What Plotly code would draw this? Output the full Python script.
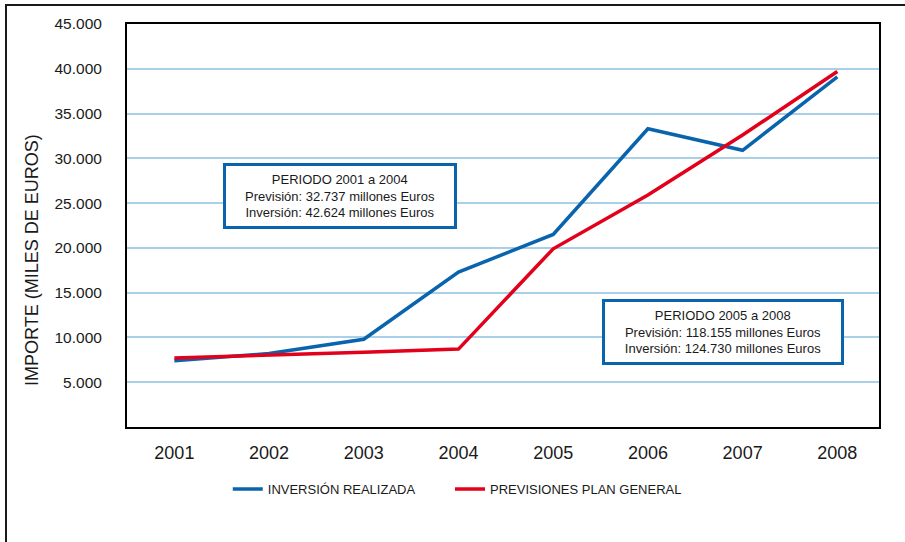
import plotly.graph_objects as go

years = ["2001", "2002", "2003", "2004", "2005", "2006", "2007", "2008"]
inversion = [7400, 8200, 9800, 17300, 21500, 33300, 30900, 39100]
previsiones = [7700, 8000, 8350, 8700, 19900, 25900, 32600, 39700]
ytick_vals = [5000, 10000, 15000, 20000, 25000, 30000, 35000, 40000, 45000]
ytick_text = ["5.000", "10.000", "15.000", "20.000", "25.000", "30.000", "35.000", "40.000", "45.000"]

BLUE = "#0a64ad"
RED = "#e3001b"
GRID = "#a9d0e6"
FONT = "Liberation Sans, Arial, sans-serif"

fig = go.Figure()
fig.add_trace(go.Scatter(x=years, y=inversion, mode="lines", name="INVERSIÓN REALIZADA",
                         line=dict(color=BLUE, width=3.5), legend="legend"))
fig.add_trace(go.Scatter(x=years, y=previsiones, mode="lines", name="PREVISIONES PLAN GENERAL",
                         line=dict(color=RED, width=3.5), legend="legend2"))

leg_font = dict(size=13, family=FONT, color="#1a1a1a")
fig.update_layout(
    width=905, height=542,
    margin=dict(l=127, r=26, t=24, b=115),
    paper_bgcolor="white", plot_bgcolor="white",
    font=dict(family=FONT, color="#1a1a1a"),
    showlegend=True,
    legend=dict(orientation="h", x=0.134, y=-0.154, xanchor="left", yanchor="middle",
                font=leg_font, bgcolor="rgba(0,0,0,0)"),
    legend2=dict(orientation="h", x=0.4295, y=-0.154, xanchor="left", yanchor="middle",
                 font=leg_font, bgcolor="rgba(0,0,0,0)"),
)
fig.update_xaxes(type="category", range=[-0.5, 7.44], showgrid=False,
                 showline=True, linecolor="black", linewidth=2, mirror=True,
                 ticks="", tickfont=dict(size=18, family=FONT, color="#1a1a1a"),
                 ticklabelstandoff=8, fixedrange=True)
fig.update_yaxes(range=[0, 45000], tickvals=ytick_vals, ticktext=ytick_text,
                 showgrid=True, gridcolor=GRID, gridwidth=2,
                 showline=True, linecolor="black", linewidth=2, mirror=True,
                 ticks="", tickfont=dict(size=15.5, family=FONT, color="#1a1a1a"),
                 ticklabelstandoff=20, zeroline=False, fixedrange=True)

# y-axis title as annotation
fig.add_annotation(text="IMPORTE (MILES DE EUROS)", textangle=-90, xref="paper", yref="paper",
                   x=-0.126, y=0.415, xanchor="center", yanchor="middle", showarrow=False,
                   font=dict(size=18, family=FONT, color="#1a1a1a"))

# info boxes
fig.add_annotation(text="PERIODO 2001 a 2004<br>Previsión: 32.737 millones Euros<br>Inversión: 42.624 millones Euros",
                   xref="paper", yref="paper", x=(340 - 127) / 752, y=(427 - 196) / 403,
                   xanchor="center", yanchor="middle", showarrow=False, align="center",
                   width=224, height=56, bordercolor=BLUE, borderwidth=3, borderpad=2,
                   bgcolor="white", font=dict(size=13, family=FONT, color="#1a1a1a"))
fig.add_annotation(text="PERIODO 2005 a 2008<br>Previsión: 118.155 millones Euros<br>Inversión: 124.730 millones Euros",
                   xref="paper", yref="paper", x=(723 - 127) / 752, y=(427 - 332) / 403,
                   xanchor="center", yanchor="middle", showarrow=False, align="center",
                   width=232, height=56, bordercolor=BLUE, borderwidth=3, borderpad=2,
                   bgcolor="white", font=dict(size=13, family=FONT, color="#1a1a1a"))

# outer frame
fig.add_shape(type="rect", xref="paper", yref="paper",
              x0=(6 - 127) / 752, x1=(920 - 127) / 752,
              y0=(427 - 560) / 403, y1=(427 - 5) / 403,
              line=dict(color="#1a1a1a", width=2), fillcolor="rgba(0,0,0,0)", layer="below")

fig.write_html("out.html")
